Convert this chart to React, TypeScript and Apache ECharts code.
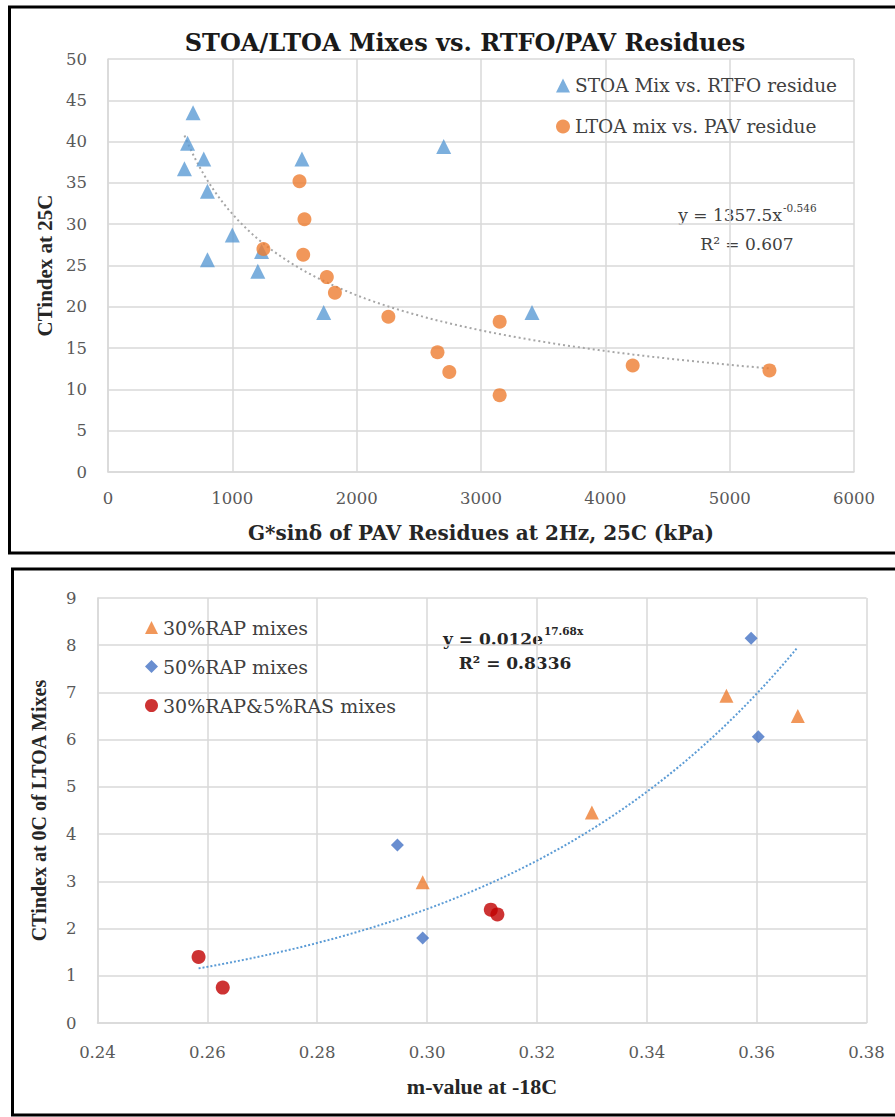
import React, { useEffect, useRef } from "react";
import * as echarts from "echarts";

// ---------- Top chart data ----------
const stoaX = [684, 640, 770, 615, 800, 1000, 800, 1235, 1205, 1560, 2700, 1735, 3410];
const stoaY = [43.5, 39.8, 37.9, 36.7, 34.0, 28.7, 25.7, 26.7, 24.3, 37.9, 39.4, 19.3, 19.3];
const ltoaX = [1540, 1580, 1570, 1250, 1760, 1825, 2255, 3150, 2650, 2745, 3150, 4220, 5320];
const ltoaY = [35.2, 30.6, 26.3, 27.0, 23.6, 21.7, 18.8, 18.2, 14.5, 12.1, 9.3, 12.9, 12.3];
const topTrendCoef = 1357.5;
const topTrendExp = -0.546;
const topXTicks = [0, 1000, 2000, 3000, 4000, 5000, 6000];
const topYTicks = [0, 5, 10, 15, 20, 25, 30, 35, 40, 45, 50];

// ---------- Bottom chart data ----------
const rap30X = [0.3545, 0.3675, 0.33, 0.2992];
const rap30Y = [6.93, 6.5, 4.46, 2.98];
const rap50X = [0.359, 0.3603, 0.2946, 0.2992];
const rap50Y = [8.15, 6.06, 3.77, 1.8];
const rasX = [0.3116, 0.3128, 0.2584, 0.2628];
const rasY = [2.4, 2.3, 1.4, 0.75];
const botTrendCoef = 0.012;
const botTrendRate = 17.68;
const botXTicks = [0.24, 0.26, 0.28, 0.3, 0.32, 0.34, 0.36, 0.38];
const botYTicks = [0, 1, 2, 3, 4, 5, 6, 7, 8, 9];

const SERIF = "Liberation Serif";
const WIDE = "DejaVu Serif";

function zip(xs: number[], ys: number[]) {
  return xs.map((x, i) => [x, ys[i]]);
}

function powerTrend(xs: number[], n: number) {
  const lo = Math.min(...xs);
  const hi = Math.max(...xs);
  const pts: number[][] = [];
  for (let i = 0; i <= n; i++) {
    const x = lo + ((hi - lo) * i) / n;
    pts.push([x, topTrendCoef * Math.pow(x, topTrendExp)]);
  }
  return pts;
}

function expTrend(xs: number[], n: number) {
  const lo = Math.min(...xs);
  const hi = Math.max(...xs);
  const pts: number[][] = [];
  for (let i = 0; i <= n; i++) {
    const x = lo + ((hi - lo) * i) / n;
    pts.push([x, botTrendCoef * Math.exp(botTrendRate * x)]);
  }
  return pts;
}

export default function App() {
  const ref = useRef<HTMLDivElement>(null);
  useEffect(() => {
    if (!ref.current) return;
    const chart = echarts.init(ref.current, undefined, { renderer: "svg" });
    const gridColor = "#D9D9D9";
    const tickLabel = { color: "#595959", fontFamily: WIDE, fontSize: 16.5 };
    const nameBase = { color: "#262626", fontFamily: SERIF, fontWeight: "bold" as const };
    const allBotX = [...rap30X, ...rap50X, ...rasX];
    const allTopX = [...stoaX, ...ltoaX];

    chart.setOption({
      animation: false,
      backgroundColor: "#ffffff",
      textStyle: { fontFamily: SERIF },
      grid: [
        { left: 108, top: 59, width: 746, height: 413 },
        { left: 97.5, top: 598, width: 769, height: 425 },
      ],
      xAxis: [
        {
          gridIndex: 0,
          type: "value",
          min: topXTicks[0],
          max: topXTicks[topXTicks.length - 1],
          interval: 1000,
          axisLine: { show: true, lineStyle: { color: gridColor, width: 1.5 } },
          axisTick: { show: false },
          splitLine: { show: true, lineStyle: { color: gridColor, width: 1.5 } },
          axisLabel: { ...tickLabel, margin: 18, formatter: (v: number) => String(v) },
          name: "G*sinδ of PAV Residues at 2Hz, 25C (kPa)",
          nameLocation: "middle",
          nameGap: 51,
          nameTextStyle: { color: "#262626", fontFamily: WIDE, fontSize: 20, fontWeight: "bold" },
        },
        {
          gridIndex: 1,
          type: "value",
          min: botXTicks[0],
          max: botXTicks[botXTicks.length - 1],
          interval: 0.02,
          axisLine: { show: true, lineStyle: { color: gridColor, width: 1.5 } },
          axisTick: { show: false },
          splitLine: { show: true, lineStyle: { color: gridColor, width: 1.5 } },
          axisLabel: { ...tickLabel, margin: 21, formatter: (v: number) => v.toFixed(2) },
          name: "m-value at -18C",
          nameLocation: "middle",
          nameGap: 52,
          nameTextStyle: { ...nameBase, fontSize: 22 },
        },
      ],
      yAxis: [
        {
          gridIndex: 0,
          type: "value",
          min: topYTicks[0],
          max: topYTicks[topYTicks.length - 1],
          interval: 5,
          axisLine: { show: true, lineStyle: { color: gridColor, width: 1.5 } },
          axisTick: { show: false },
          splitLine: { show: true, lineStyle: { color: gridColor, width: 1.5 } },
          axisLabel: { ...tickLabel, margin: 21 },
          name: "CTindex at 25C",
          nameLocation: "middle",
          nameGap: 51,
          nameTextStyle: { ...nameBase, fontSize: 21 },
        },
        {
          gridIndex: 1,
          type: "value",
          min: botYTicks[0],
          max: botYTicks[botYTicks.length - 1],
          interval: 1,
          axisLine: { show: true, lineStyle: { color: gridColor, width: 1.5 } },
          axisTick: { show: false },
          splitLine: { show: true, lineStyle: { color: gridColor, width: 1.5 } },
          axisLabel: { ...tickLabel, margin: 21 },
          name: "CTindex at 0C of LTOA Mixes",
          nameLocation: "middle",
          nameGap: 49,
          nameTextStyle: { ...nameBase, fontSize: 20 },
        },
      ],
      legend: [
        {
          orient: "vertical",
          left: 551,
          top: 71,
          itemWidth: 14,
          itemHeight: 14,
          itemGap: 22,
          textStyle: { color: "#404040", fontFamily: WIDE, fontSize: 18.5, lineHeight: 16 },
          data: [
            { name: "STOA Mix vs. RTFO residue", icon: "triangle" },
            { name: "LTOA mix vs. PAV residue", icon: "circle" },
          ],
        },
        {
          orient: "vertical",
          left: 140,
          top: 613,
          itemWidth: 13,
          itemHeight: 13,
          itemGap: 20,
          textStyle: { color: "#404040", fontFamily: WIDE, fontSize: 19, lineHeight: 16 },
          data: [
            { name: "30%RAP mixes", icon: "triangle" },
            { name: "50%RAP mixes", icon: "diamond" },
            { name: "30%RAP&5%RAS mixes", icon: "circle" },
          ],
        },
      ],
      series: [
        {
          name: "Power trend",
          type: "line",
          xAxisIndex: 0,
          yAxisIndex: 0,
          data: powerTrend(allTopX, 120),
          showSymbol: false,
          smooth: false,
          lineStyle: { color: "#A6A6A6", width: 2, type: [2, 3] },
          silent: true,
          z: 1,
        },
        {
          name: "STOA Mix vs. RTFO residue",
          type: "scatter",
          xAxisIndex: 0,
          yAxisIndex: 0,
          symbol: "triangle",
          symbolSize: 15,
          itemStyle: { color: "#5B9BD5" },
          data: zip(stoaX, stoaY),
          z: 3,
        },
        {
          name: "LTOA mix vs. PAV residue",
          type: "scatter",
          xAxisIndex: 0,
          yAxisIndex: 0,
          symbol: "circle",
          symbolSize: 14,
          itemStyle: { color: "#ED7D31" },
          data: zip(ltoaX, ltoaY),
          z: 4,
        },
        {
          name: "Expon trend",
          type: "line",
          xAxisIndex: 1,
          yAxisIndex: 1,
          data: expTrend(allBotX, 120),
          showSymbol: false,
          lineStyle: { color: "#5B9BD5", width: 2, type: [2, 2] },
          silent: true,
          z: 1,
        },
        {
          name: "30%RAP mixes",
          type: "scatter",
          xAxisIndex: 1,
          yAxisIndex: 1,
          symbol: "triangle",
          symbolSize: 14,
          itemStyle: { color: "#ED7D31" },
          data: zip(rap30X, rap30Y),
          z: 3,
        },
        {
          name: "50%RAP mixes",
          type: "scatter",
          xAxisIndex: 1,
          yAxisIndex: 1,
          symbol: "diamond",
          symbolSize: 13,
          itemStyle: { color: "#4472C4" },
          data: zip(rap50X, rap50Y),
          z: 3,
        },
        {
          name: "30%RAP&5%RAS mixes",
          type: "scatter",
          xAxisIndex: 1,
          yAxisIndex: 1,
          symbol: "circle",
          symbolSize: 14,
          itemStyle: { color: "#C00000" },
          data: zip(rasX, rasY),
          z: 3,
        },
      ],
      graphic: [
        {
          type: "rect",
          shape: { x: 9.5, y: 7, width: 895, height: 546 },
          style: { fill: "none", stroke: "#000", lineWidth: 3 },
          silent: true,
        },
        {
          type: "rect",
          shape: { x: 12.5, y: 569, width: 895, height: 546 },
          style: { fill: "none", stroke: "#000", lineWidth: 3 },
          silent: true,
        },
        {
          type: "text",
          x: 465,
          y: 42,
          style: {
            text: "STOA/LTOA Mixes vs. RTFO/PAV Residues",
            fill: "#1a1a1a",
            fontFamily: WIDE,
            fontSize: 24,
            fontWeight: "bold",
            align: "center",
            verticalAlign: "middle",
          },
        },
        {
          type: "text",
          x: 782,
          y: 215,
          style: {
            text: "y = 1357.5x",
            fill: "#404040",
            fontFamily: WIDE,
            fontSize: 17,
            align: "right",
            verticalAlign: "middle",
          },
        },
        {
          type: "text",
          x: 783,
          y: 208,
          style: {
            text: "-0.546",
            fill: "#404040",
            fontFamily: WIDE,
            fontSize: 10.5,
            align: "left",
            verticalAlign: "middle",
          },
        },
        {
          type: "text",
          x: 747,
          y: 244,
          style: {
            text: "R² = 0.607",
            fill: "#404040",
            fontFamily: WIDE,
            fontSize: 17,
            align: "center",
            verticalAlign: "middle",
          },
        },
        {
          type: "text",
          x: 543,
          y: 639,
          style: {
            text: "y = 0.012e",
            fill: "#262626",
            fontFamily: WIDE,
            fontSize: 17,
            fontWeight: "bold",
            align: "right",
            verticalAlign: "middle",
          },
        },
        {
          type: "text",
          x: 544,
          y: 631,
          style: {
            text: "17.68x",
            fill: "#262626",
            fontFamily: WIDE,
            fontSize: 10.5,
            fontWeight: "bold",
            align: "left",
            verticalAlign: "middle",
          },
        },
        {
          type: "text",
          x: 515,
          y: 663,
          style: {
            text: "R² = 0.8336",
            fill: "#262626",
            fontFamily: WIDE,
            fontSize: 17,
            fontWeight: "bold",
            align: "center",
            verticalAlign: "middle",
          },
        },
      ],
    });
    return () => chart.dispose();
  }, []);
  return (
    <div
      ref={ref}
      style={{ position: "absolute", left: 0, top: 0, width: 895, height: 1117, background: "#fff" }}
    />
  );
}
